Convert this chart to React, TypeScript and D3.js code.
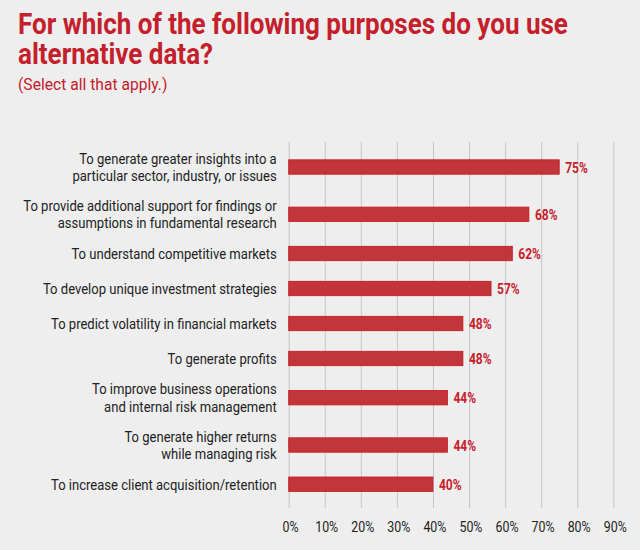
import React, { useEffect, useRef } from 'react';
import * as d3 from 'd3';

const titleLines = ['For which of the following purposes do you use', 'alternative data?'];
const subtitle = '(Select all that apply.)';

const categories = [
  ['To generate greater insights into a', 'particular sector, industry, or issues'],
  ['To provide additional support for findings or', 'assumptions in fundamental research'],
  ['To understand competitive markets'],
  ['To develop unique investment strategies'],
  ['To predict volatility in financial markets'],
  ['To generate profits'],
  ['To improve business operations', 'and internal risk management'],
  ['To generate higher returns', 'while managing risk'],
  ['To increase client acquisition/retention'],
];
// the printed percentages and the drawn bar lengths don't quite agree in the source
const labels = [75, 68, 62, 57, 48, 48, 44, 44, 40];
const barLengths = [75, 66.6, 62, 56.1, 48.3, 48.3, 44, 44, 40];
const ticks = [0, 10, 20, 30, 40, 50, 60, 70, 80, 90];

const width = 640;
const height = 550;
const font = 'Roboto, sans-serif';

const App: React.FC = () => {
  const ref = useRef<SVGSVGElement | null>(null);

  useEffect(() => {
    if (!ref.current) return;
    const svg = d3.select(ref.current);
    svg.selectAll('*').remove();

    const x = d3.scaleLinear().domain([0, 90]).range([288.7, 613.3]);
    const plotTop = 142;
    const plotBottom = 508;

    // rows with two label lines sit further apart than single line ones
    const centers = [167];
    categories.slice(1).forEach((lines, i) => {
      const total = lines.length + categories[i].length;
      const step = total === 4 ? 47.3 : total === 3 ? 39.2 : 35;
      centers.push(centers[i] + step);
    });

    svg.append('rect').attr('width', width).attr('height', height).attr('fill', '#eeeeee');

    // Title
    const title = svg.append('g').attr('font-family', font).attr('fill', '#c4202b');
    titleLines.forEach((line, i) => {
      title
        .append('text')
        .attr('transform', `translate(18,${34 + i * 29.5}) scale(0.897,1)`)
        .attr('font-size', 29)
        .attr('font-weight', 700)
        .text(line);
    });
    title
      .append('text')
      .attr('transform', 'translate(18,89.5) scale(0.92,1)')
      .attr('font-size', 17)
      .attr('font-weight', 400)
      .text(subtitle);

    // Axis
    const axis = svg
      .append('g')
      .attr('transform', `translate(0,${plotBottom})`)
      .call(
        d3
          .axisBottom(x)
          .tickValues(ticks)
          .tickFormat(d => `${d}%`),
      );
    axis.select('.domain').remove();
    axis.selectAll('.tick line').attr('y2', plotTop - plotBottom).attr('stroke', '#c6c6c6').attr('stroke-width', 1);
    axis
      .selectAll<SVGTextElement, number>('.tick text')
      .attr('y', 0)
      .attr('dy', 0)
      .attr('transform', 'translate(1.4,24) scale(0.885,1)')
      .attr('font-family', font)
      .attr('font-size', 14)
      .attr('fill', '#222222');

    // Bars
    svg
      .append('g')
      .selectAll('rect')
      .data(barLengths)
      .join('rect')
      .attr('x', x(0))
      .attr('y', (_, i) => centers[i] - 7.2)
      .attr('width', d => x(d) - x(0))
      .attr('height', 14.4)
      .attr('fill', '#c1353b')
      .attr('stroke', '#c8141c')
      .attr('stroke-width', 0.8);

    // Value labels
    svg
      .append('g')
      .selectAll('text')
      .data(labels)
      .join('text')
      .attr('transform', (_, i) => `translate(${x(barLengths[i]) + 6},${centers[i] + 5.5}) scale(0.86,1)`)
      .attr('font-family', font)
      .attr('font-size', 14)
      .attr('font-weight', 700)
      .attr('fill', '#c8202a')
      .text(d => `${d}%`);

    // Category labels
    const rows = svg
      .append('g')
      .selectAll('g')
      .data(categories)
      .join('g')
      .attr('transform', (lines, i) => `translate(276.7,${centers[i] - (lines.length - 1) * 8.8 + 5.3}) scale(0.9,1)`);
    rows
      .selectAll('text')
      .data(lines => lines)
      .join('text')
      .attr('y', (_, i) => i * 17.6)
      .attr('text-anchor', 'end')
      .attr('font-family', font)
      .attr('font-size', 14.5)
      .attr('fill', '#222222')
      .text(d => d);
  }, []);

  return <svg ref={ref} width={width} height={height} style={{ position: 'absolute', left: 0, top: 0 }} />;
};

export default App;
